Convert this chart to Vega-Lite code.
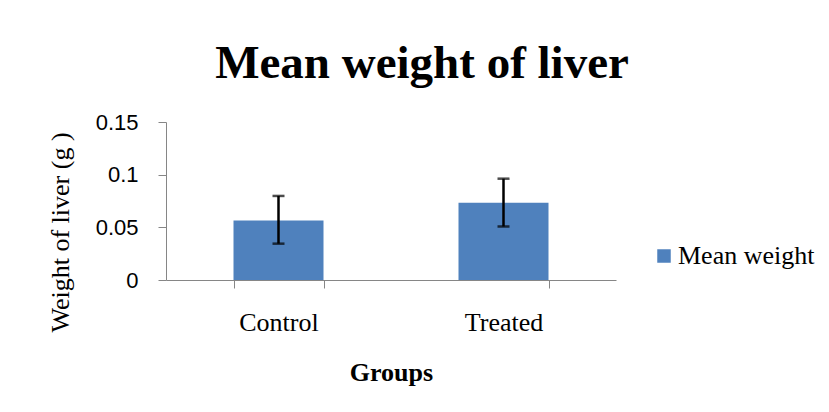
{
  "$schema": "https://vega.github.io/schema/vega-lite/v6.json",
  "autosize": {"type": "none"},
  "padding": {"left": 166, "top": 122, "right": 213, "bottom": 132},
  "width": 450,
  "height": 158,
  "background": "white",
  "title": {
    "text": "Mean weight of liver",
    "font": "Liberation Serif",
    "fontSize": 47,
    "fontWeight": "bold",
    "color": "black",
    "anchor": "middle",
    "frame": "group",
    "baseline": "alphabetic",
    "offset": 34,
    "dx": 31,
    "dy": 48
  },
  "data": {
    "values": [
      {"group": "Control", "mean": 0.0565, "lower": 0.0345, "upper": 0.0798, "series": "Mean weight"},
      {"group": "Treated", "mean": 0.0733, "lower": 0.0508, "upper": 0.0962, "series": "Mean weight"}
    ]
  },
  "config": {
    "view": {"stroke": null},
    "axis": {
      "domainColor": "#868686",
      "tickColor": "#868686",
      "domainWidth": 1,
      "tickWidth": 1,
      "tickSize": 8,
      "grid": false
    }
  },
  "encoding": {
    "x": {
      "field": "group",
      "type": "nominal",
      "sort": null,
      "scale": {"paddingInner": 0.6, "paddingOuter": 0.3},
      "axis": {
        "title": "Groups",
        "titleFont": "Liberation Serif",
        "titleFontSize": 26,
        "titleFontWeight": "bold",
        "titleColor": "black",
        "titleBaseline": "alphabetic",
        "titleY": 100,
        "labelAngle": 0,
        "labelFont": "Liberation Serif",
        "labelFontSize": 26,
        "labelColor": "black",
        "labelPadding": 21,
        "tickBand": "extent"
      }
    }
  },
  "layer": [
    {
      "mark": {"type": "bar"},
      "encoding": {
        "y": {
          "field": "mean",
          "type": "quantitative",
          "scale": {"domain": [0, 0.15], "nice": false},
          "axis": {
            "title": "Weight of liver (g )",
            "titleFont": "Liberation Serif",
            "titleFontSize": 26,
            "titleFontWeight": "normal",
            "titleColor": "black",
            "titleAngle": -90,
            "titleBaseline": "alphabetic",
            "titleAlign": "center",
            "titleX": -98,
            "titleY": 110,
            "values": [0, 0.05, 0.1, 0.15],
            "format": ".2~f",
            "labelFont": "Liberation Sans",
            "labelFontSize": 22,
            "labelColor": "black",
            "labelPadding": 20
          }
        },
        "color": {
          "field": "series",
          "type": "nominal",
          "scale": {"range": ["#4F81BD"]},
          "legend": {
            "title": null,
            "orient": "none",
            "legendX": 485,
            "legendY": 121,
            "padding": 0,
            "symbolType": "square",
            "symbolSize": 182,
            "symbolStrokeWidth": 0,
            "labelFont": "Liberation Serif",
            "labelFontSize": 26,
            "labelColor": "black",
            "labelOffset": 1
          }
        }
      }
    },
    {
      "mark": {"type": "rule", "color": "black", "strokeWidth": 2.5},
      "encoding": {
        "y": {"field": "lower", "type": "quantitative"},
        "y2": {"field": "upper"}
      }
    },
    {
      "mark": {"type": "tick", "color": "black", "thickness": 2.5, "size": 12},
      "encoding": {
        "y": {"field": "lower", "type": "quantitative"}
      }
    },
    {
      "mark": {"type": "tick", "color": "black", "thickness": 2.5, "size": 12},
      "encoding": {
        "y": {"field": "upper", "type": "quantitative"}
      }
    }
  ]
}
